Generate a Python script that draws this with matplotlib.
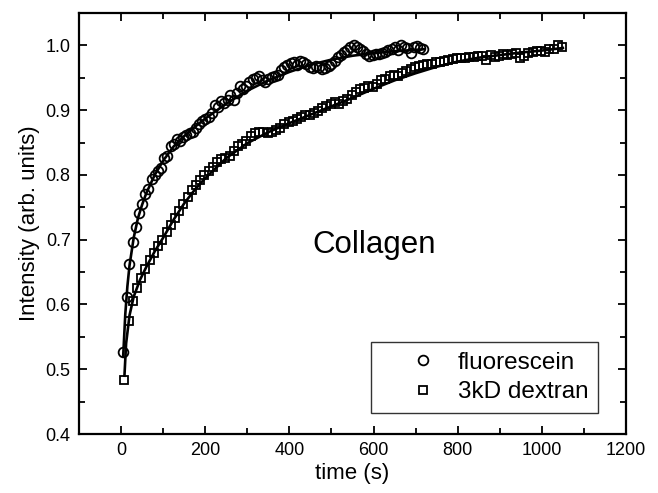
import matplotlib
matplotlib.use("Agg")
import matplotlib.pyplot as plt
from matplotlib.ticker import MultipleLocator, FormatStrFormatter
from matplotlib.lines import Line2D

plt.rcParams['font.family'] = ['Liberation Sans', 'DejaVu Sans']

# fluorescein data
fluo_t = [5, 13, 20, 28, 35, 43, 50, 58, 65, 73, 80, 88, 95, 103, 110, 118, 125, 133,
          140, 148, 155, 163, 170, 178, 185, 193, 200, 208, 215, 223, 230, 238, 245,
          253, 260, 268, 275, 283, 290, 298, 305, 313, 320, 328, 335, 343, 350, 358,
          365, 373, 380, 388, 395, 403, 410, 418, 425, 433, 440, 448, 455, 463, 470,
          478, 485, 493, 500, 508, 515, 523, 530, 538, 545, 553, 560, 568, 575, 583,
          590, 598, 605, 613, 620, 628, 635, 643, 650, 658, 665, 673, 680, 688, 695,
          703, 710, 718]
fluo_y = [0.527, 0.612, 0.662, 0.697, 0.720, 0.741, 0.755, 0.771, 0.779, 0.793, 0.800,
          0.806, 0.810, 0.826, 0.829, 0.844, 0.848, 0.856, 0.853, 0.858, 0.862, 0.864,
          0.866, 0.872, 0.878, 0.884, 0.887, 0.889, 0.896, 0.908, 0.905, 0.914, 0.911,
          0.916, 0.924, 0.915, 0.926, 0.938, 0.932, 0.938, 0.943, 0.948, 0.950, 0.952,
          0.946, 0.944, 0.948, 0.951, 0.952, 0.955, 0.962, 0.966, 0.970, 0.973, 0.975,
          0.969, 0.976, 0.974, 0.972, 0.967, 0.965, 0.968, 0.966, 0.964, 0.965, 0.968,
          0.972, 0.976, 0.982, 0.985, 0.990, 0.993, 0.998, 1.000, 0.998, 0.995, 0.992,
          0.986, 0.984, 0.985, 0.986, 0.987, 0.989, 0.990, 0.993, 0.995, 0.998, 0.993,
          1.001, 0.998, 0.996, 0.989, 0.997, 0.999, 0.996, 0.995]

# fluorescein fit
fluo_fit_t = [5, 10, 15, 20, 30, 40, 50, 60, 80, 100, 125, 150, 175, 200, 250, 300,
              350, 400, 450, 500, 550, 600, 650, 700, 720]
fluo_fit_y = [0.520, 0.585, 0.628, 0.660, 0.703, 0.733, 0.754, 0.772, 0.800, 0.822,
              0.844, 0.860, 0.874, 0.887, 0.910, 0.930, 0.946, 0.959, 0.970, 0.978,
              0.984, 0.988, 0.991, 0.993, 0.994]

# 3kD dextran data
dex_t = [8, 18, 28, 38, 48, 58, 68, 78, 88, 98, 108, 118, 128, 138, 148, 158, 168, 178,
         188, 198, 208, 218, 228, 238, 248, 258, 268, 278, 288, 298, 308, 318, 328, 338,
         348, 358, 368, 378, 388, 398, 408, 418, 428, 438, 448, 458, 468, 478, 488, 498,
         508, 518, 528, 538, 548, 558, 568, 578, 588, 598, 608, 618, 628, 638, 648, 658,
         668, 678, 688, 698, 708, 718, 728, 738, 748, 758, 768, 778, 788, 798, 808, 818,
         828, 838, 848, 858, 868, 878, 888, 898, 908, 918, 928, 938, 948, 958, 968, 978,
         988, 998, 1008, 1018, 1028, 1038, 1048]
dex_y = [0.483, 0.575, 0.606, 0.626, 0.641, 0.655, 0.668, 0.679, 0.690, 0.699, 0.712,
         0.722, 0.733, 0.745, 0.755, 0.766, 0.777, 0.785, 0.792, 0.800, 0.806, 0.812,
         0.820, 0.824, 0.826, 0.829, 0.837, 0.844, 0.848, 0.852, 0.860, 0.864, 0.866,
         0.867, 0.865, 0.866, 0.870, 0.873, 0.878, 0.881, 0.884, 0.887, 0.890, 0.892,
         0.893, 0.895, 0.899, 0.903, 0.906, 0.910, 0.912, 0.910, 0.914, 0.917, 0.924,
         0.928, 0.932, 0.934, 0.938, 0.936, 0.941, 0.946, 0.948, 0.952, 0.955, 0.953,
         0.957, 0.961, 0.963, 0.966, 0.968, 0.970, 0.971, 0.972, 0.974, 0.975, 0.976,
         0.978, 0.979, 0.980, 0.980, 0.981, 0.982, 0.982, 0.983, 0.984, 0.978, 0.985,
         0.982, 0.984, 0.986, 0.985, 0.987, 0.988, 0.981, 0.984, 0.988, 0.990, 0.991,
         0.992, 0.990, 0.994, 0.995, 1.001, 0.997]

# 3kD dextran fit
dex_fit_t = [8, 12, 20, 30, 45, 60, 80, 100, 125, 150, 175, 200, 250, 300, 350, 400,
             450, 500, 550, 600, 650, 700, 750, 800, 850, 900, 950, 1000, 1050]
dex_fit_y = [0.490, 0.540, 0.583, 0.612, 0.638, 0.658, 0.682, 0.703, 0.731, 0.756,
             0.777, 0.795, 0.826, 0.849, 0.866, 0.880, 0.893, 0.906, 0.919, 0.933,
             0.946, 0.957, 0.967, 0.975, 0.981, 0.985, 0.989, 0.992, 0.996]

labels = ["fluorescein", "3kD dextran"]

fig = plt.figure(figsize=(6.58, 4.93), dpi=100)
ax = fig.add_axes([79/658, 1-434/493, (626-79)/658, (434-13)/493])

ax.plot(fluo_t, fluo_y, linestyle='none', marker='o', ms=7.0, mfc='none',
        mec='black', mew=1.3, zorder=2)
ax.plot(dex_t, dex_y, linestyle='none', marker='s', ms=5.6, mfc='none',
        mec='black', mew=1.3, zorder=2)
ax.plot(fluo_fit_t, fluo_fit_y, color='black', lw=1.9, zorder=3)
ax.plot(dex_fit_t, dex_fit_y, color='black', lw=1.9, zorder=3)

ax.set_xlim(-100, 1200)
ax.set_ylim(0.4, 1.05)
ax.xaxis.set_major_locator(MultipleLocator(200))
ax.xaxis.set_minor_locator(MultipleLocator(100))
ax.yaxis.set_major_locator(MultipleLocator(0.1))
ax.yaxis.set_minor_locator(MultipleLocator(0.05))
ax.yaxis.set_major_formatter(FormatStrFormatter('%.1f'))
ax.tick_params(which='both', direction='in', top=True, right=True, width=1.3,
               labelsize=13, colors='black')
ax.tick_params(which='major', length=6, pad=6)
ax.tick_params(which='minor', length=4)
for s in ax.spines.values():
    s.set_linewidth(1.6)

ax.set_xlabel("time (s)", fontsize=16, labelpad=3)
ax.set_ylabel("Intensity (arb. units)", fontsize=16, labelpad=4)

ax.text(601, 0.680, "Collagen", fontsize=22.5, ha='center', va='baseline')

handles = [Line2D([], [], linestyle='none', marker='o', ms=7.0, mfc='none',
                  mec='black', mew=1.3),
           Line2D([], [], linestyle='none', marker='s', ms=5.6, mfc='none',
                  mec='black', mew=1.3)]
leg = ax.legend(handles, labels, loc='lower left', bbox_to_anchor=(0.534, 0.05),
                borderaxespad=0, fontsize=17.5, frameon=True, fancybox=False,
                edgecolor='black', numpoints=1, handlelength=3.48,
                handletextpad=-0.3, borderpad=0.4, labelspacing=0.3)
leg.get_frame().set_linewidth(1.0)

fig.savefig("out.png", dpi=100)
